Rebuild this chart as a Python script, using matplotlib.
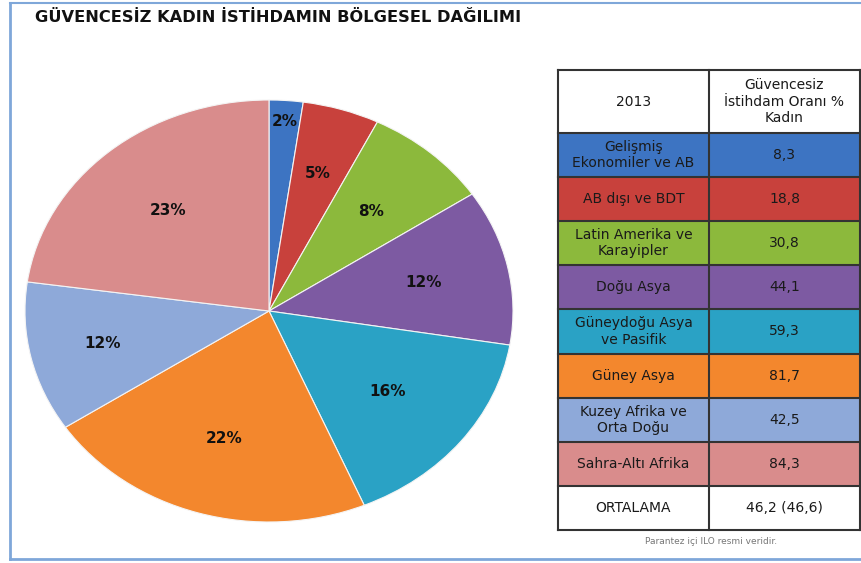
import matplotlib.pyplot as plt
import numpy as np
from matplotlib.patches import Rectangle
from matplotlib.lines import Line2D

# table / pie data (2013, güvencesiz istihdam oranı % kadın)
regions = ["Gelişmiş\nEkonomiler ve AB", "AB dışı ve BDT", "Latin Amerika ve\nKarayipler",
           "Doğu Asya", "Güneydoğu Asya\nve Pasifik", "Güney Asya",
           "Kuzey Afrika ve\nOrta Doğu", "Sahra-Altı Afrika"]
rates = [8.3, 18.8, 30.8, 44.1, 59.3, 81.7, 42.5, 84.3]
rate_labels = ["8,3", "18,8", "30,8", "44,1", "59,3", "81,7", "42,5", "84,3"]
pct_labels = [2, 5, 8, 12, 16, 22, 12, 23]
avg_label = "46,2 (46,6)"

colors = ["#3D74C2", "#C8413C", "#8CB93C", "#7D5AA2", "#2AA2C5",
          "#F3872D", "#8EA9D9", "#D98C8C"]
label_dist = [0.9, 0.68, 0.63, 0.65, 0.62, 0.63, 0.70, 0.63]

W, H = 862, 563
fig = plt.figure(figsize=(W / 100, H / 100), dpi=100)

def box(x0, y0, x1, y1):
    # pixel box (top-left origin) -> figure fraction
    return [x0 / W, 1 - y1 / H, (x1 - x0) / W, (y1 - y0) / H]

# outer frame
fc = "#7FA7D9"
fig.add_artist(Line2D([10 / W, 10 / W], [1 - 559 / H, 1 - 3 / H], color=fc, lw=2, transform=fig.transFigure))
fig.add_artist(Line2D([10 / W, 1], [1 - 559 / H, 1 - 559 / H], color=fc, lw=2, transform=fig.transFigure))
fig.add_artist(Line2D([10 / W, 1], [1 - 3 / H, 1 - 3 / H], color=fc, lw=1.5, transform=fig.transFigure))

fig.text(35 / W, 1 - 18 / H, "GÜVENCESİZ KADIN İSTİHDAMIN BÖLGESEL DAĞILIMI",
         fontsize=11.7, fontweight="bold", va="center", ha="left", color="#111111")

# pie (elliptical, like the Excel original)
ax = fig.add_axes(box(25, 100, 513, 522))
wedges, _ = ax.pie(rates, colors=colors, startangle=90, counterclock=False,
                   wedgeprops=dict(edgecolor="#f4f4f4", linewidth=0.8))
ax.set_aspect("auto")
ax.set_xlim(-1, 1)
ax.set_ylim(-1, 1)
ax.axis("off")
for w, p, d in zip(wedges, pct_labels, label_dist):
    a = np.deg2rad((w.theta1 + w.theta2) / 2)
    ax.text(d * np.cos(a), d * np.sin(a), f"{p}%", ha="center", va="center",
            fontsize=11, fontweight="bold", color="#111111")

# table
tx0, tx1, tmid = 558, 860, 709
ty0, thead, rowh = 70, 133, 44.1
tax = fig.add_axes(box(0, 0, W, H))
tax.set_xlim(0, W)
tax.set_ylim(H, 0)
tax.axis("off")
tf = dict(fontsize=10, color="#1a1a1a", ha="center", va="center", linespacing=1.2)

tax.add_patch(Rectangle((tx0, ty0), tx1 - tx0, thead - ty0, facecolor="white", edgecolor="none"))
tax.text((tx0 + tmid) / 2, (ty0 + thead) / 2, "2013", **tf)
tax.text((tmid + tx1) / 2, (ty0 + thead) / 2, "Güvencesiz\nİstihdam Oranı %\nKadın", **tf)

for i, (name, val, c) in enumerate(zip(regions, rate_labels, colors)):
    y = thead + i * rowh
    tax.add_patch(Rectangle((tx0, y), tx1 - tx0, rowh, facecolor=c, edgecolor="none"))
    tax.text((tx0 + tmid) / 2, y + rowh / 2, name, **tf)
    tax.text((tmid + tx1) / 2, y + rowh / 2, val, **tf)

yavg = thead + len(regions) * rowh
tax.text((tx0 + tmid) / 2, yavg + rowh / 2, "ORTALAMA", **tf)
tax.text((tmid + tx1) / 2, yavg + rowh / 2, avg_label, **tf)
ybot = yavg + rowh

# grid lines
lc = dict(color="#333333", lw=1.5)
tax.plot([tx0, tx1], [ty0, ty0], **lc)
for k in range(len(regions) + 2):
    y = thead + k * rowh
    tax.plot([tx0, tx1], [y, y], **lc)
for x in (tx0, tmid, tx1):
    tax.plot([x, x], [ty0, ybot], **lc)

tax.text((tx0 + tx1) / 2 + 2, 541, "Parantez içi ILO resmi veridir.", fontsize=6.5,
         color="#777777", ha="center", va="center")

fig.savefig("out.png", dpi=100)
